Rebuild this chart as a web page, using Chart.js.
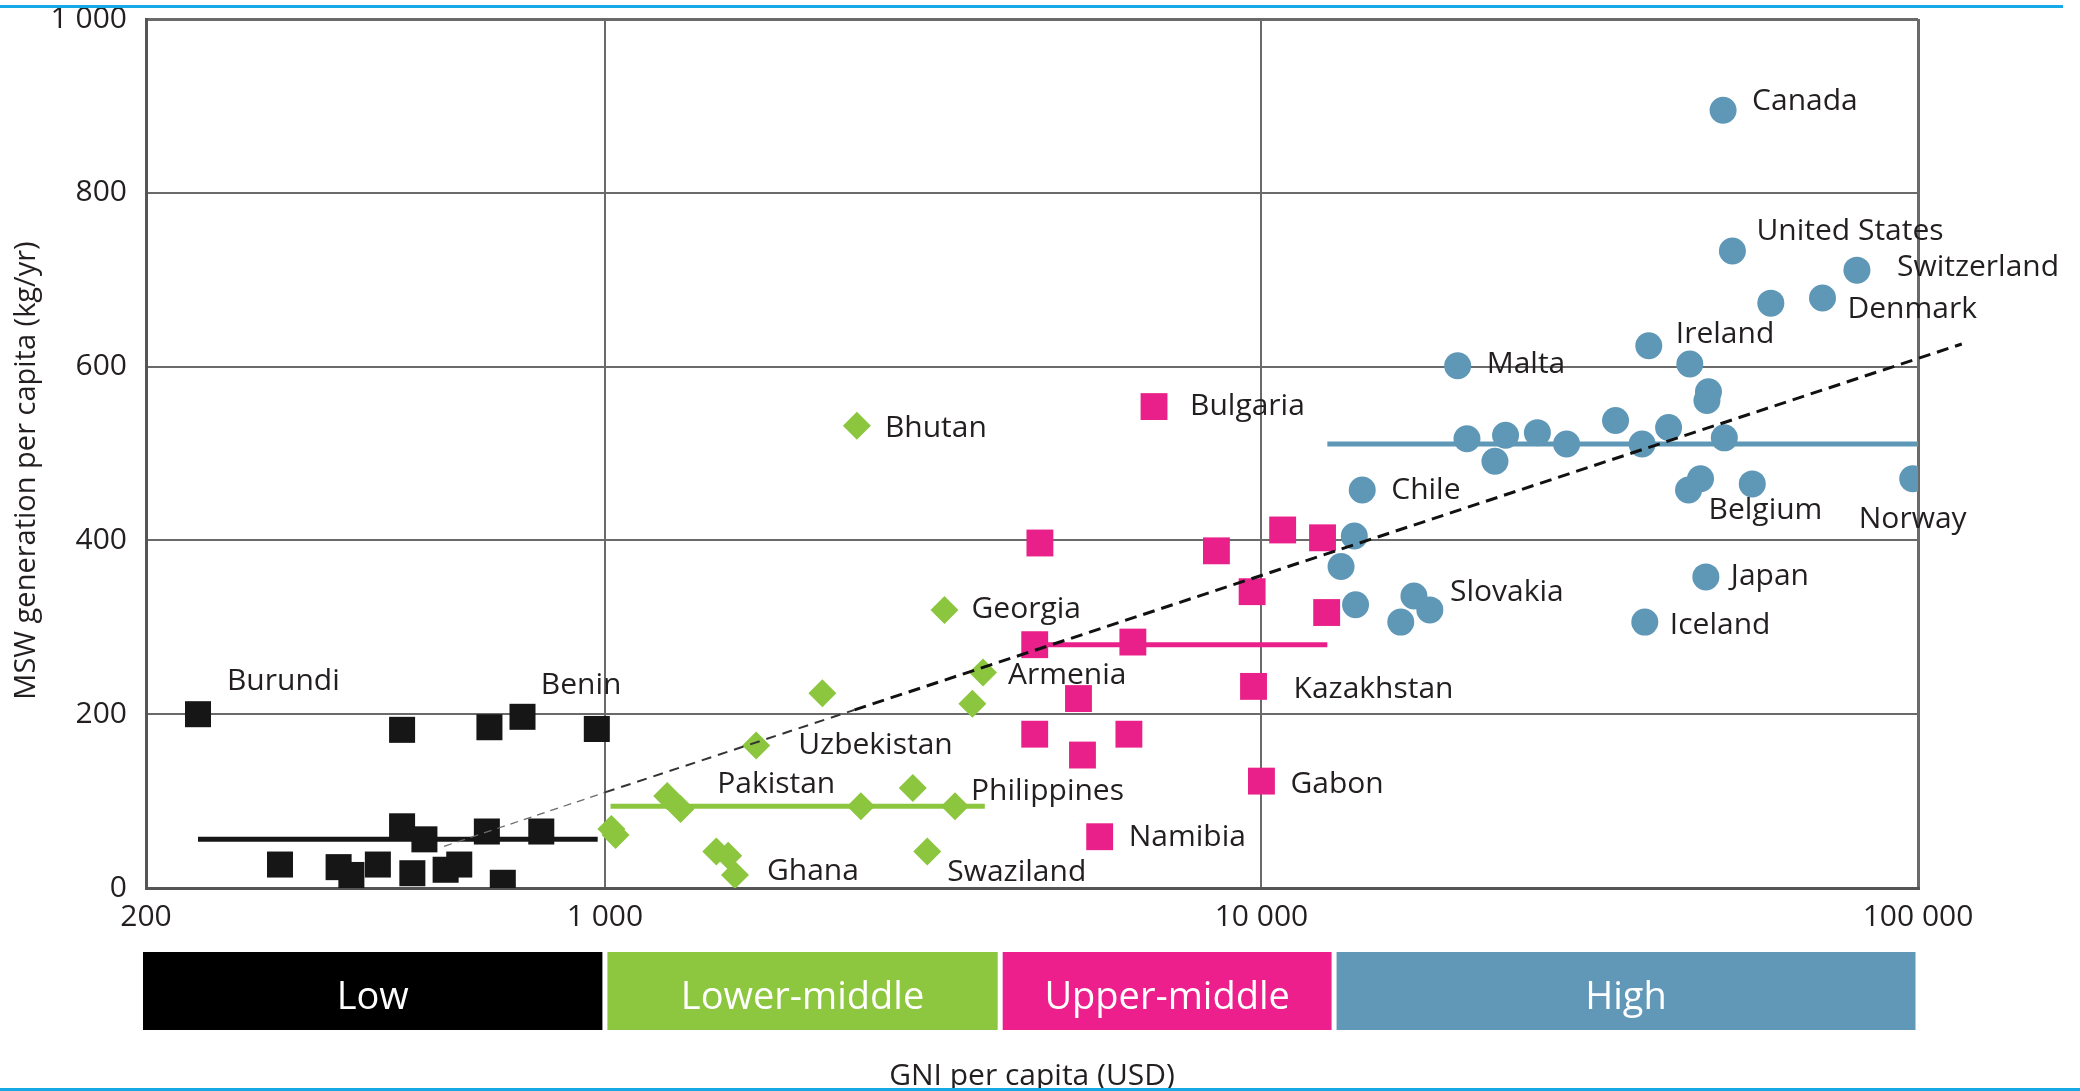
<!DOCTYPE html>
<html>
<head>
<meta charset="utf-8">
<title>MSW generation vs GNI per capita</title>
<script src="https://cdn.jsdelivr.net/npm/chart.js@4.4.0/dist/chart.umd.min.js"></script>
<style>
  body { margin: 0; background: #fff; }
  #wrap { position: relative; width: 2080px; height: 1091px; overflow: hidden; }
  canvas { position: absolute; left: 0; top: 0; }
  .rule { position: absolute; left: 0; height: 3px; background: #16a9e6; }
  #topRule { top: 5px; width: 2063px; }
  #bottomRule { top: 1088px; width: 2080px; }
</style>
</head>
<body>
<div id="wrap">
  <canvas id="chart" width="2080" height="1091"></canvas>
  <div class="rule" id="topRule"></div>
  <div class="rule" id="bottomRule"></div>
</div>
<script>
// GNI per capita (USD) / MSW per capita (kg/yr), one list per income group
const lowGni = [240, 491, 667, 749, 972, 491, 531, 661, 800, 320, 393, 411, 451, 509, 572, 600, 699];
const lowMsw = [200, 182, 185, 197, 183, 71, 56, 65, 65, 27, 24, 15, 27, 17, 21, 27, 6];
const lowNames = ['Burundi', '', '', '', 'Benin', '', '', '', '', '', '', '', '', '', '', '', ''];

const lmGni = [2420, 3290, 3766, 3628, 2144, 1700, 1244, 1304, 2454, 2944, 3414, 1023, 1038, 1478, 1541, 1578, 3097];
const lmMsw = [532, 320, 248, 212, 224, 164, 106, 91, 94, 115, 94, 68, 61, 42, 37, 15, 42];
const lmNames = ['Bhutan', 'Georgia', 'Armenia', '', '', 'Uzbekistan', 'Pakistan', '', '', '', 'Philippines', '', '', '', '', 'Ghana', 'Swaziland'];

const umGni = [6861, 4598, 8539, 10772, 12389, 9678, 12570, 4515, 6370, 9726, 5264, 4515, 6282, 5338, 10000, 5670];
const umMsw = [554, 397, 388, 412, 403, 341, 317, 280, 283, 232, 218, 177, 177, 153, 123, 59];
const umNames = ['Bulgaria', '', '', '', '', '', '', '', '', 'Kazakhstan', '', '', '', '', 'Gabon', 'Namibia'];

const highGni = [50480, 52160, 80720, 59680, 71540, 38900, 19900, 44920, 47960, 47700, 34620, 41700, 20560, 23540,
  26320, 29160, 22680, 38000, 50700, 46640, 44720, 55920, 98160, 14240, 13850, 13220, 13910, 17070, 18050, 16300, 47520, 38360];
const highMsw = [895, 733, 711, 673, 679, 624, 601, 603, 571, 561, 538, 530, 517, 521,
  524, 511, 491, 511, 518, 471, 458, 465, 471, 458, 405, 370, 326, 336, 320, 306, 358, 306];
const highNames = ['Canada', 'United States', 'Switzerland', '', 'Denmark', 'Ireland', 'Malta', '', '', '', '', '', '', '',
  '', '', '', '', '', '', 'Belgium', '', 'Norway', 'Chile', '', '', '', 'Slovakia', '', '', 'Japan', 'Iceland'];

// group median lines (span of the group's GNI range)
const medianFrom = [240, 1020, 4500, 12600];
const medianTo = [975, 3790, 12600, 100000];
const medianMsw = [56, 94, 280, 511];

// overall trend line
const trendGni = [569, 1000, 2400, 116600];
const trendMsw = [48, 110, 205, 626];

// income bands under the axis
const bandNames = ['Low', 'Lower-middle', 'Upper-middle', 'High'];
const bandEdges = [200, 1000, 4000, 12900, 100000];

const xTickValues = [200, 1000, 10000, 100000];
const xTickLabels = ['200', '1 000', '10 000', '100 000'];
const yTickLabels = ['0', '200', '400', '600', '800', '1 000'];
const yTitle = 'MSW generation per capita (kg/yr)';

const groupColors = ['#161616', '#8cc63f', '#e9208a', '#5f97b7'];
const bandColors = ['#000000', '#8dc63f', '#ec1f8c', '#6198b8'];
const textColor = '#231f20';
const FONT = '"Open Sans", sans-serif';

// label offsets in px from the marker: [dx, dy, align]
const labelOffsets = {
  'Burundi': [29, -33], 'Benin': [-56, -44],
  'Bhutan': [28, 3], 'Georgia': [27, 0], 'Armenia': [25, 3], 'Uzbekistan': [42, 0],
  'Pakistan': [50, -11], 'Philippines': [16, -15], 'Ghana': [32, -4], 'Swaziland': [20, 21],
  'Bulgaria': [36, 0], 'Kazakhstan': [40, 3], 'Gabon': [29, 3], 'Namibia': [29, 1],
  'Canada': [29, -9], 'United States': [24, -20], 'Switzerland': [40, -3], 'Denmark': [25, 12],
  'Ireland': [27, -11], 'Malta': [29, -1], 'Chile': [29, 0], 'Belgium': [20, 20],
  'Norway': [0, 41, 'center'], 'Slovakia': [36, -4], 'Japan': [25, 0], 'Iceland': [25, 3]
};

const toPoints = (xs, ys) => xs.map((x, i) => ({ x: x, y: ys[i] }));

const groups = [
  { names: lowNames, dataset: 1 },
  { names: lmNames, dataset: 2 },
  { names: umNames, dataset: 3 },
  { names: highNames, dataset: 4 }
];

const trendWidths = [1.3, 2, 3];
const trendColors = ['#6a6a6a', '#333333', '#111111'];
const trendDashes = [[8, 6], [10, 7], [12, 7]];

const labelPlugin = {
  id: 'countryLabels',
  afterDatasetsDraw(chart) {
    const ctx = chart.ctx;
    ctx.save();
    ctx.font = '30px ' + FONT;
    ctx.fillStyle = textColor;
    ctx.textBaseline = 'middle';
    groups.forEach(g => {
      const meta = chart.getDatasetMeta(g.dataset);
      g.names.forEach((name, i) => {
        if (!name) return;
        const pt = meta.data[i];
        const off = labelOffsets[name] || [28, 0];
        ctx.textAlign = off[2] || 'left';
        ctx.fillText(name, pt.x + off[0], pt.y + off[1]);
      });
    });
    ctx.restore();
  }
};

// income bands + y title (placed a little below the axis middle, as in the source)
const bandPlugin = {
  id: 'incomeBands',
  afterDraw(chart) {
    const ctx = chart.ctx;
    const x = chart.scales.x;
    const y = chart.scales.y;
    const top = 952, bottom = 1030;
    ctx.save();
    ctx.font = '38px ' + FONT;
    ctx.textAlign = 'center';
    ctx.textBaseline = 'middle';
    bandNames.forEach((name, i) => {
      let x0 = x.getPixelForValue(bandEdges[i]);
      let x1 = x.getPixelForValue(bandEdges[i + 1]);
      if (i > 0) x0 += 2.5;
      x1 -= 2.5;
      if (i === 0) x0 -= 3;
      ctx.fillStyle = bandColors[i];
      ctx.fillRect(x0, top, x1 - x0, bottom - top);
      ctx.fillStyle = '#ffffff';
      ctx.fillText(name, (x0 + x1) / 2, (top + bottom) / 2 + 7);
    });

    ctx.font = '29px ' + FONT;
    ctx.fillStyle = textColor;
    ctx.translate(27, (y.top + y.bottom) / 2 + 17);
    ctx.rotate(-Math.PI / 2);
    ctx.fillText(yTitle, 0, 0);
    ctx.restore();
  }
};

const medianSets = medianFrom.map((from, i) => ({
  type: 'line',
  data: [{ x: from, y: medianMsw[i] }, { x: medianTo[i], y: medianMsw[i] }],
  borderColor: groupColors[i],
  borderWidth: 5,
  pointRadius: 0,
  showLine: true,
  order: 2
}));

new Chart(document.getElementById('chart'), {
  type: 'scatter',
  data: {
    datasets: [
      {
        type: 'line',
        data: toPoints(trendGni, trendMsw),
        borderColor: '#111',
        borderWidth: 3,
        pointRadius: 0,
        showLine: true,
        clip: false,
        order: 0,
        segment: {
          borderWidth: c => trendWidths[c.p0DataIndex],
          borderColor: c => trendColors[c.p0DataIndex],
          borderDash: c => trendDashes[c.p0DataIndex]
        }
      },
      {
        data: toPoints(lowGni, lowMsw),
        pointStyle: 'rect', pointRadius: 18.4,
        backgroundColor: groupColors[0], borderWidth: 0, order: 1
      },
      {
        data: toPoints(lmGni, lmMsw),
        pointStyle: 'rectRot', pointRadius: 14,
        backgroundColor: groupColors[1], borderWidth: 0, order: 1
      },
      {
        data: toPoints(umGni, umMsw),
        pointStyle: 'rect', pointRadius: 19,
        backgroundColor: groupColors[2], borderWidth: 0, order: 1
      },
      {
        data: toPoints(highGni, highMsw),
        pointStyle: 'circle', pointRadius: 13.5,
        backgroundColor: groupColors[3], borderWidth: 0, order: 1
      },
      ...medianSets
    ]
  },
  options: {
    responsive: false,
    animation: false,
    devicePixelRatio: 1,
    layout: { padding: { left: 0, right: 162, top: 16, bottom: 0 } },
    plugins: {
      legend: { display: false },
      tooltip: { enabled: false }
    },
    scales: {
      x: {
        type: 'logarithmic',
        min: 200,
        max: 100000,
        afterBuildTicks: s => { s.ticks = xTickValues.map(v => ({ value: v })); },
        afterFit: s => { s.height = 203; },
        ticks: {
          autoSkip: false,
          maxRotation: 0,
          padding: 14,
          color: textColor,
          font: { family: FONT, size: 30, lineHeight: 1 },
          callback: (v, i) => xTickLabels[i]
        },
        grid: {
          drawTicks: false,
          color: '#6a6a6a',
          lineWidth: c => (c.tick && (c.tick.value === 100000 || c.tick.value === 200)) ? 3 : 2
        },
        border: { display: true, color: '#555', width: 3 },
        title: {
          display: true,
          text: 'GNI per capita (USD)',
          color: textColor,
          font: { family: FONT, size: 30 },
          padding: { top: 0, bottom: -3 }
        }
      },
      y: {
        min: 0,
        max: 1000,
        afterFit: s => { s.width = 146; },
        ticks: {
          stepSize: 200,
          padding: 0,
          color: textColor,
          font: { family: FONT, size: 30, lineHeight: 0.9 },
          callback: (v, i) => yTickLabels[i]
        },
        grid: {
          drawTicks: true,
          tickLength: 19,
          tickColor: 'rgba(0,0,0,0)',
          color: '#6a6a6a',
          lineWidth: c => (c.tick && (c.tick.value === 1000 || c.tick.value === 0)) ? 3 : 2
        },
        border: { display: true, color: '#555', width: 3 }
      }
    }
  },
  plugins: [labelPlugin, bandPlugin]
});
</script>
</body>
</html>
